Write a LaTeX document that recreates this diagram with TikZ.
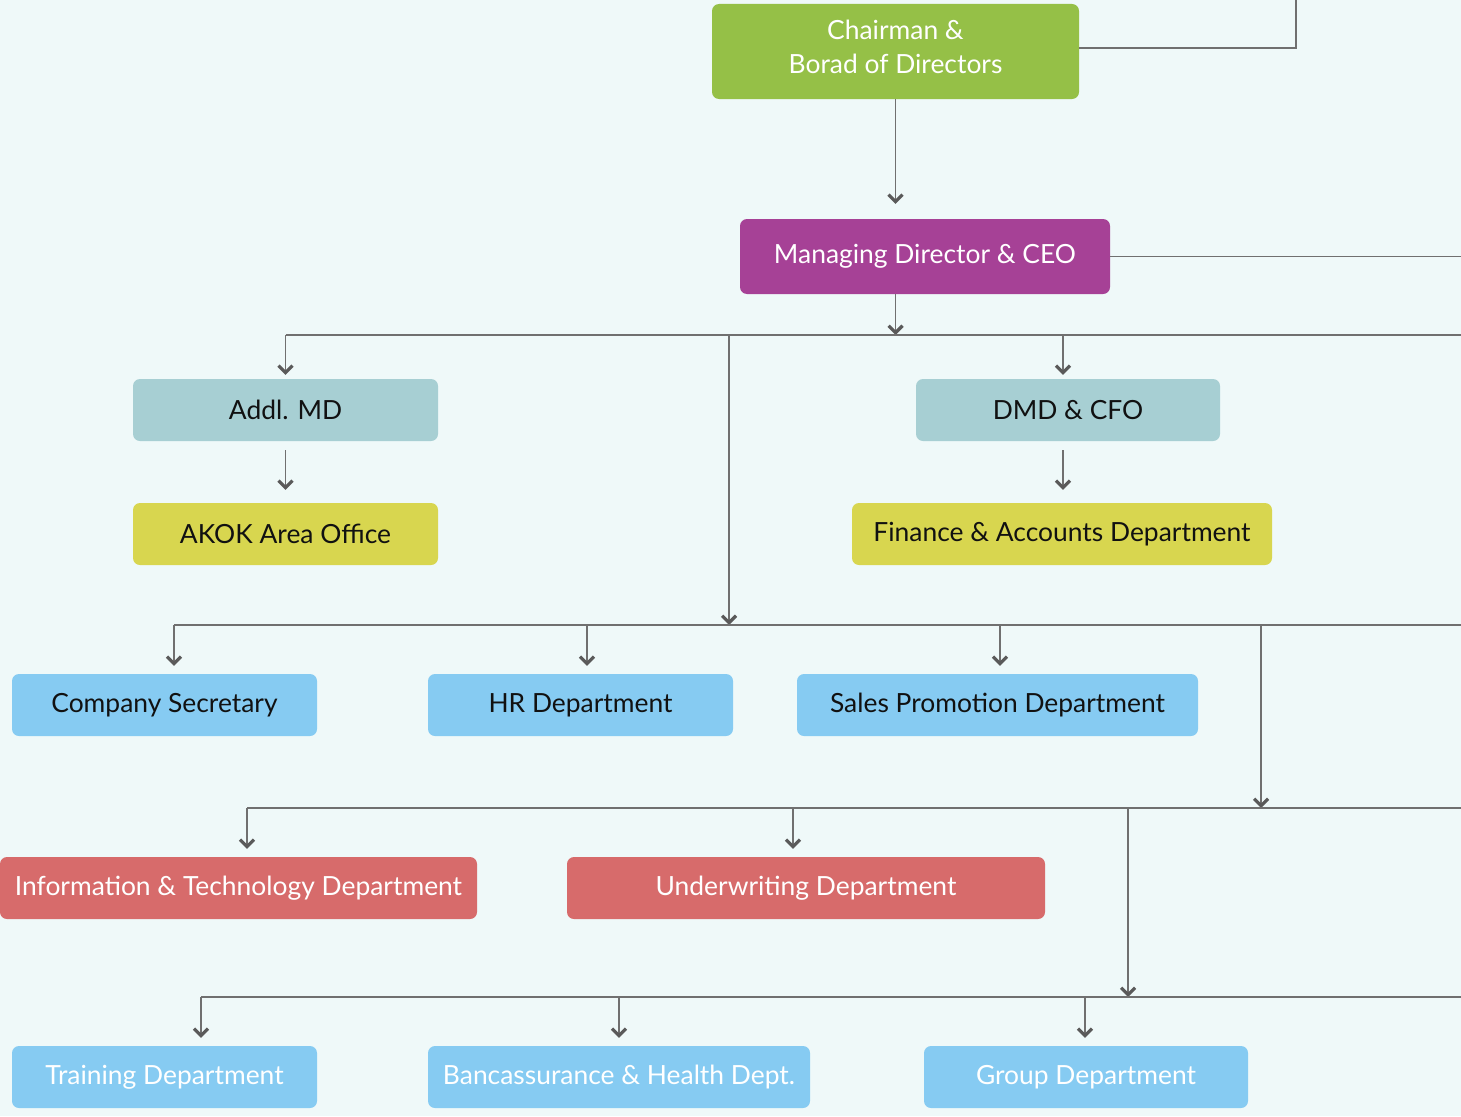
\documentclass[tikz,border=0pt]{standalone}
\usepackage{fontspec}
\setmainfont{Lato}
\usepackage{tikz}
\usetikzlibrary{arrows.meta,positioning}
\usepackage{xcolor}
\definecolor{bgcol}{HTML}{EFF9F9}
\definecolor{chaircol}{HTML}{95C047}
\definecolor{ceocol}{HTML}{A64196}
\definecolor{tealcol}{HTML}{A7CFD3}
\definecolor{yellowcol}{HTML}{D8D64F}
\definecolor{bluecol}{HTML}{86CBF2}
\definecolor{redcol}{HTML}{D76B6B}
\definecolor{linegray}{HTML}{707070}
\definecolor{tipgray}{HTML}{5A5A5A}
\definecolor{txtdark}{HTML}{111111}

\begin{document}
\begin{tikzpicture}[x=1pt, y=-1pt,
    box/.style={rectangle, rounded corners=7pt, fill=#1, minimum height=62pt, inner sep=0pt, font=\fontsize{26.4}{34}\selectfont, align=center, text=txtdark},
    light/.style={text=white},
    arr/.style={-{Straight Barb[length=7pt,width=14pt,line width=3.2pt,color=tipgray]}, line width=1.6pt, draw=linegray},
    bus/.style={line width=1.5pt, draw=linegray}
]
\fill[bgcol] (0,0) rectangle (1461,1116);
\useasboundingbox (0,0) rectangle (1461,1116);

\node[box=chaircol, light, minimum width=367pt, minimum height=95pt, text depth=10pt] (chair) at (895.5,51.5) {Chairman \&\\Borad of Directors};
\node[box=ceocol, light, minimum width=370pt, minimum height=75pt] (ceo) at (925,256.5) {Managing Director \& CEO};
\node[box=tealcol, minimum width=305pt] (addl) at (285.5,410) {Addl. MD};
\node[box=tealcol, minimum width=304pt] (dmd) at (1068,410) {DMD \& CFO};
\node[box=yellowcol, minimum width=305pt] (akok) at (285.5,534) {AKOK Area Office};
\node[box=yellowcol, minimum width=420pt] (fin) at (1062,534) {Finance \& Accounts Department};
\node[box=bluecol, minimum width=305pt] (cs) at (164.5,705) {Company Secretary};
\node[box=bluecol, minimum width=305pt] (hr) at (580.5,705) {HR Department};
\node[box=bluecol, minimum width=401pt] (sales) at (997.5,705) {Sales Promotion Department};
\node[box=redcol, light, minimum width=477pt] (it) at (238.5,888) {Information \& Technology Department};
\node[box=redcol, light, minimum width=478pt] (uw) at (806,888) {Underwriting Department};
\node[box=bluecol, light, minimum width=305pt] (train) at (164.5,1077) {Training Department};
\node[box=bluecol, light, minimum width=382pt] (banc) at (619,1077) {Bancassurance \& Health Dept.};
\node[box=bluecol, light, minimum width=324pt] (grp) at (1086,1077) {Group Department};

\coordinate (b1) at (895.5,335);
\coordinate (b2) at (729,625);
\coordinate (b3) at (1261,808);
\coordinate (b4) at (1128,997);
\coordinate (topc) at (1296,0);
\coordinate (rgt) at (1461,0);

\draw[bus] ([yshift=3.5pt]chair.east) -| (topc);
\draw[bus] (ceo.east) -- (rgt |- ceo.east);
\draw[arr, shorten >=15pt] (chair.south) -- (chair.south |- ceo.north);
\draw[arr] (ceo.south -| chair.south) -- (b1);

\draw[bus] (addl.north |- b1) -- (rgt |- b1);
\draw[arr, shorten >=4pt] (addl.north |- b1) -- (addl.north);
\draw[arr, shorten >=4pt] ([xshift=-5pt]dmd.north |- b1) -- ([xshift=-5pt]dmd.north);
\draw[arr] (b2 |- b1) -- (b2);
\draw[arr, shorten <=9pt, shorten >=13pt] (addl.south) -- (akok.north);
\draw[arr, shorten <=9pt, shorten >=13pt] ([xshift=-5pt]dmd.south) -- ([xshift=-5pt]dmd.south |- fin.north);

\draw[bus] ([xshift=9.5pt]cs.north |- b2) -- (rgt |- b2);
\draw[arr, shorten >=8pt] ([xshift=9.5pt]cs.north |- b2) -- ([xshift=9.5pt]cs.north);
\draw[arr, shorten >=8pt] ([xshift=6.5pt]hr.north |- b2) -- ([xshift=6.5pt]hr.north);
\draw[arr, shorten >=8pt] ([xshift=2.5pt]sales.north |- b2) -- ([xshift=2.5pt]sales.north);
\draw[arr] (b3 |- b2) -- (b3);

\draw[bus] ([xshift=8.5pt]it.north |- b3) -- (rgt |- b3);
\draw[arr, shorten >=8pt] ([xshift=8.5pt]it.north |- b3) -- ([xshift=8.5pt]it.north);
\draw[arr, shorten >=8pt] ([xshift=-13pt]uw.north |- b3) -- ([xshift=-13pt]uw.north);
\draw[arr] (b4 |- b3) -- (b4);

\draw[bus] ([xshift=36.5pt]train.north |- b4) -- (rgt |- b4);
\draw[arr, shorten >=8pt] ([xshift=36.5pt]train.north |- b4) -- ([xshift=36.5pt]train.north);
\draw[arr, shorten >=8pt] (banc.north |- b4) -- (banc.north);
\draw[arr, shorten >=8pt] ([xshift=-1pt]grp.north |- b4) -- ([xshift=-1pt]grp.north);
\end{tikzpicture}
\end{document}
